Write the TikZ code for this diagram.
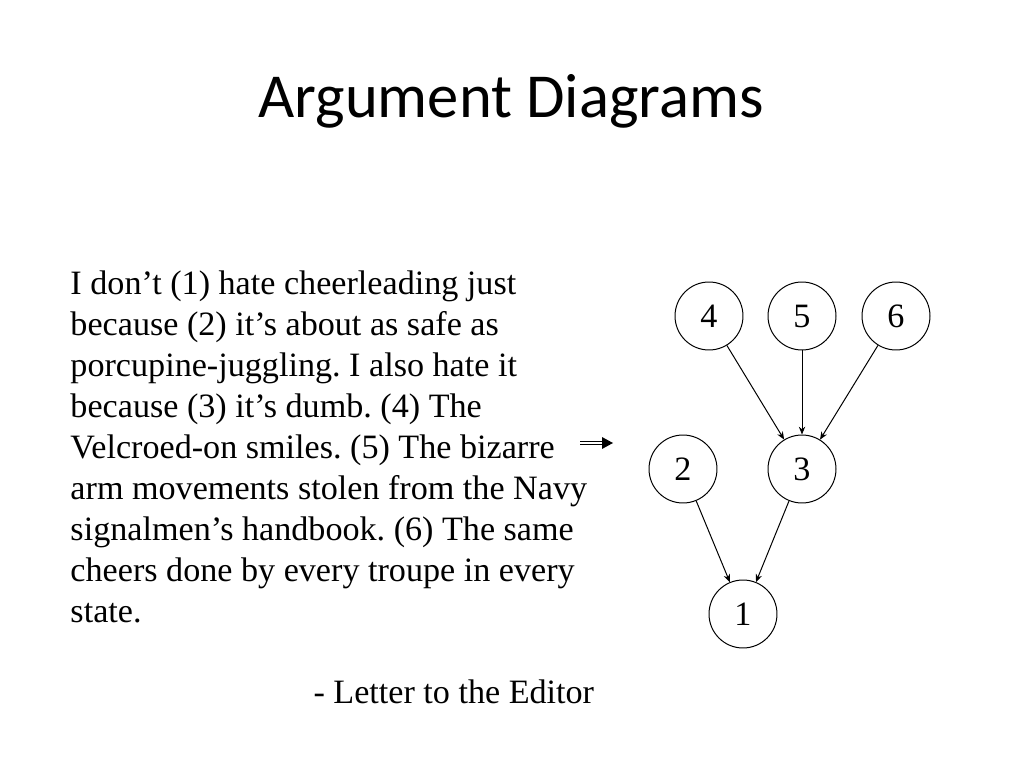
\documentclass[tikz,border=0pt]{standalone}
\usepackage{fontspec}
\setmainfont{Liberation Serif}
\newfontfamily\titolofont{Carlito}
\usetikzlibrary{arrows.meta}
\frenchspacing

\begin{document}
\begin{tikzpicture}[x=0.703125pt, y=-0.703125pt, line width=0.7pt,
    nodo/.style={circle, draw, minimum size=47.8pt, inner sep=0pt, font=\fontsize{24}{28.8}\selectfont},
    freccia/.style={-{Stealth[length=5.5pt, width=4.5pt]}}]

    \useasboundingbox (0,0) rectangle (1024,768);

    % -- Titolo --
    \node[anchor=base, inner sep=0pt, font=\titolofont\fontsize{44}{52.8}\selectfont] (titolo) at (511,118) {Argument Diagrams};

    % -- Parte Sinistra: testo della lettera --
    \node[anchor=north west, inner sep=0pt, align=left, font=\fontsize{24}{28.83}\selectfont] (testo) at (70,270) {%
        I don’t (1) hate cheerleading just\\
        because (2) it’s about as safe as\\
        porcupine-juggling. I also hate it\\
        because (3) it’s dumb. (4) The\\
        Velcroed-on smiles. (5) The bizarre\\
        arm movements stolen from the Navy\\
        signalmen’s handbook. (6) The same\\
        cheers done by every troupe in every\\
        state.};

    \node[anchor=base west, inner sep=0pt, font=\fontsize{24}{28.8}\selectfont] (fonte) at (313,703) {- Letter to the Editor};

    % Freccia doppia tra testo e diagramma
    \coordinate (fa) at (580,443);
    \coordinate (fb) at (602,443);
    \coordinate (fc) at (613,443);
    \draw ([yshift=1.3pt]fa) -- ([yshift=1.3pt]fb);
    \draw ([yshift=-1.3pt]fa) -- ([yshift=-1.3pt]fb);
    \fill ([yshift=4.2pt]fb) -- (fc) -- ([yshift=-4.2pt]fb) -- cycle;

    % -- Parte Destra: diagramma --
    \node[nodo] (n4) at (709,316) {4};
    \node[nodo] (n5) at (802,316) {5};
    \node[nodo] (n6) at (896,316) {6};
    \node[nodo] (n2) at (683,469) {2};
    \node[nodo] (n3) at (802,469) {3};
    \node[nodo] (n1) at (743,614) {1};

    \foreach \da/\a in {n4/n3, n5/n3, n6/n3, n2/n1, n3/n1}
        \draw[freccia] (\da) -- (\a);

\end{tikzpicture}
\end{document}
